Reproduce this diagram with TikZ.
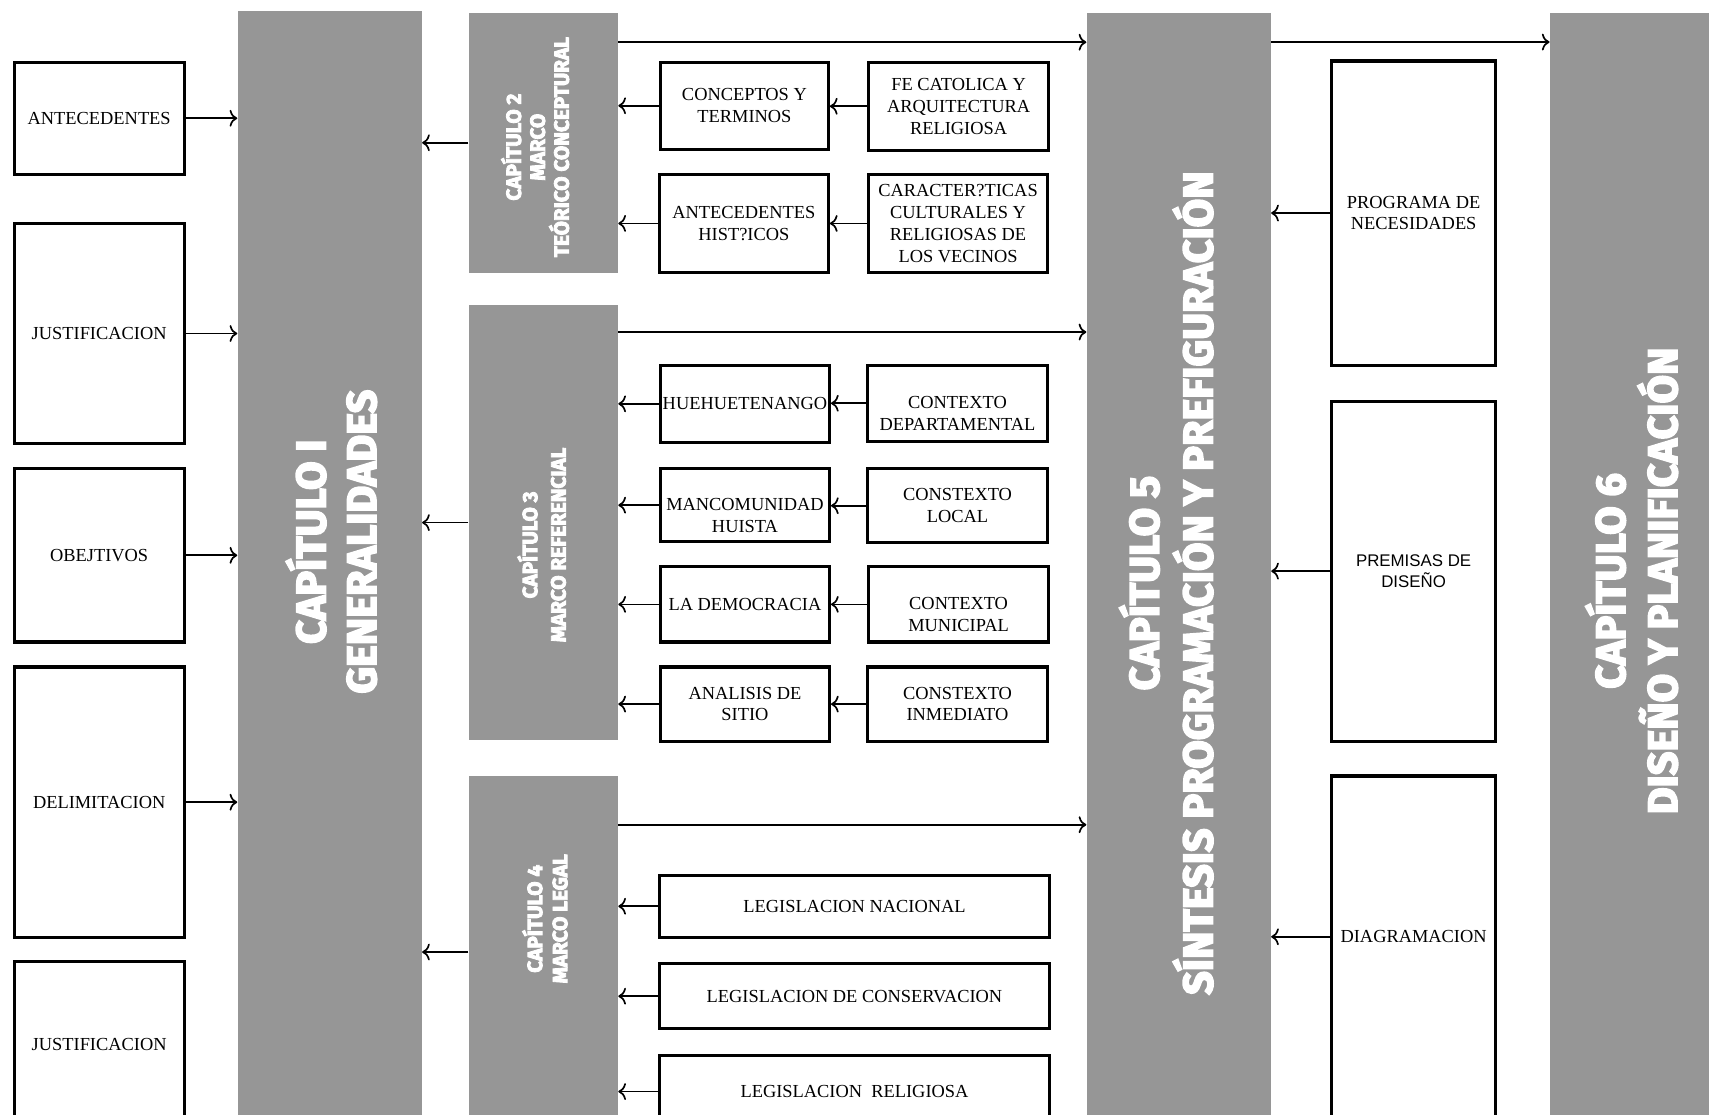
\documentclass[tikz,border=0pt]{standalone}
\usepackage{fontspec}
\setmainfont{Liberation Serif}
\newfontfamily\boxsans{Liberation Sans}
\newfontfamily\capfont{Fira Sans}[BoldFeatures={FakeBold=4}]
\usetikzlibrary{arrows.meta}
\definecolor{bargray}{RGB}{150,150,150}

\tikzset{
  box/.style={draw, line width=2pt, fill=white, align=center, inner sep=1pt,
    font=\fontsize{12}{14.2}\selectfont},
  bar/.style={fill=bargray, inner sep=0pt},
  captitle/.style={rotate=90, text=white, align=center, inner sep=0pt},
  bigcap/.style={captitle, font=\capfont\bfseries\fontsize{27}{33}\selectfont},
  smallcap/.style={captitle, font=\capfont\bfseries\fontsize{13.5}{#1}\selectfont},
  arr/.style={line width=1.1pt, -{To[length=5pt,width=11pt]}}
}
% text moved down inside its box
\newcommand{\lowtext}[1]{\raisebox{-0.38cm}[0pt][0pt]{\begin{tabular}{@{}c@{}}#1\end{tabular}}}

\begin{document}
\begin{tikzpicture}[x=0.025cm, y=-0.025cm]
\useasboundingbox (0,0) rectangle (1568,1023);

% chapter bars
\node[bar, minimum width=4.225cm, minimum height=25.625cm] (cap1) at (302.5,522.5) {};
\node[bar, minimum width=3.425cm, minimum height=5.95cm] (cap2) at (498.5,131) {};
\node[bar, minimum width=3.425cm, minimum height=9.975cm] (cap3) at (498.5,479.5) {};
\node[bar, minimum width=3.425cm, minimum height=8.075cm] (cap4) at (498.5,873.5) {};
\node[bar, minimum width=4.225cm, minimum height=25.575cm] (cap5) at (1081.5,523.5) {};
\node[bar, minimum width=3.95cm, minimum height=25.575cm] (cap6) at (1501,523.5) {};

\node[bigcap] (t1) at (304,497) {CAPÍTULO I\\GENERALIDADES};
\node[smallcap=15.6] (t2) at (491,135) {CAPÍTULO 2\\MARCO\\TEÓRICO CONCEPTURAL};
\node[smallcap=18.5] (t3) at (497,500) {CAPÍTULO 3\\MARCO REFERENCIAL};
\node[smallcap=16.4] (t4) at (500,843) {CAPÍTULO 4\\MARCO LEGAL};
\node[bigcap, font=\capfont\bfseries\fontsize{27}{35}\selectfont] (t5) at (1070,535)
  {CAPÍTULO 5\\SÍNTESIS PROGRAMACIÓN Y PREFIGURACIÓN};
\node[bigcap, font=\capfont\bfseries\fontsize{27}{34}\selectfont] (t6) at (1497,533)
  {CAPÍTULO 6\\DISEÑO Y PLANIFICACIÓN};

% chapter 1
\node[box, minimum width=3.9cm, minimum height=2.575cm] (ante) at (91,108.5) {ANTECEDENTES};
\node[box, minimum width=3.9cm, minimum height=5.05cm] (just) at (91,306) {JUSTIFICACION};
\node[box, minimum width=3.9cm, minimum height=3.975cm] (obj) at (91,509.5) {OBEJTIVOS};
\node[box, minimum width=3.9cm, minimum height=6.2cm] (deli) at (91,736) {DELIMITACION};
\node[box, minimum width=3.9cm, minimum height=3.825cm] (justb) at (91,958.5) {JUSTIFICACION};

\foreach \n in {ante,just,obj,deli}
  \draw[arr] (\n.east) -- (\n.east -| cap1.west);

% chapter 2
\node[box, minimum width=3.85cm, minimum height=2cm] (conc) at (683,97) {CONCEPTOS Y\\TERMINOS};
\node[box, minimum width=4.125cm, minimum height=2.025cm] (fe) at (879.5,97.5) {FE CATOLICA Y\\ARQUITECTURA\\RELIGIOSA};
\node[box, minimum width=3.875cm, minimum height=2.25cm] (anth) at (682.5,205) {ANTECEDENTES\\HIST?ICOS};
\node[box, minimum width=4.1cm, minimum height=2.25cm] (cara) at (879,205) {CARACTER?TICAS\\CULTURALES Y\\RELIGIOSAS DE\\LOS VECINOS};

% chapter 3
\node[box, minimum width=3.875cm, minimum height=1.775cm] (hue) at (683.5,370.5) {HUEHUETENANGO};
\node[box, minimum width=4.125cm, minimum height=1.75cm] (cdep) at (878.5,370) {\lowtext{CONTEXTO\\DEPARTAMENTAL}};
\node[box, minimum width=3.875cm, minimum height=1.675cm] (manc) at (683.5,463.5) {\lowtext{MANCOMUNIDAD\\HUISTA}};
\node[box, minimum width=4.125cm, minimum height=1.7cm] (cloc) at (878.5,464) {CONSTEXTO\\LOCAL};
\node[box, minimum width=3.875cm, minimum height=1.725cm] (demo) at (683.5,554.5) {LA DEMOCRACIA};
\node[box, minimum width=4.125cm, minimum height=1.725cm] (cmun) at (879.5,554.5) {\lowtext{CONTEXTO\\MUNICIPAL}};
\node[box, minimum width=3.875cm, minimum height=1.7cm] (anal) at (683.5,646) {ANALISIS DE\\SITIO};
\node[box, minimum width=4.125cm, minimum height=1.7cm] (cinm) at (878.5,646) {CONSTEXTO\\INMEDIATO};

\foreach \a/\b in {fe/conc,cara/anth,cdep/hue,cloc/manc,cmun/demo,cinm/anal}
  \draw[arr] (\a.west) -- (\a.west -| \b.east);
\foreach \n in {conc,anth}
  \draw[arr] (\n.west) -- (\n.west -| cap2.east);
\foreach \n in {hue,manc,demo,anal}
  \draw[arr] (\n.west) -- (\n.west -| cap3.east);

% chapter 4
\node[box, minimum width=8.95cm, minimum height=1.425cm] (lnac) at (784,831.5) {LEGISLACION NACIONAL};
\node[box, minimum width=8.95cm, minimum height=1.5cm] (lcon) at (784,914) {LEGISLACION DE CONSERVACION};
\node[box, minimum width=8.95cm, minimum height=1.675cm] (lrel) at (784,1001.5) {LEGISLACION\ \ RELIGIOSA};

\foreach \n in {lnac,lcon,lrel}
  \draw[arr] (\n.west) -- (\n.west -| cap4.east);

% chapters to chapter 1 and 5
\foreach \n in {cap2,cap3,cap4}
  \draw[arr] (\n.west) -- (\n.west -| cap1.east);
\draw[arr] ([yshift=-0.675cm]cap2.north east) -- ([yshift=-0.675cm]cap2.north east -| cap5.west);
\draw[arr] ([yshift=-0.625cm]cap3.north east) -- ([yshift=-0.625cm]cap3.north east -| cap5.west);
\draw[arr] ([yshift=-1.125cm]cap4.north east) -- ([yshift=-1.125cm]cap4.north east -| cap5.west);
\draw[arr] ([yshift=-0.675cm]cap5.north east) -- ([yshift=-0.675cm]cap5.north east -| cap6.west);

% chapter 5
\node[box, minimum width=3.75cm, minimum height=6.975cm] (prog) at (1297,195.5) {PROGRAMA DE\\NECESIDADES};
\node[box, minimum width=3.75cm, minimum height=7.8cm, font=\boxsans\fontsize{11}{14}\selectfont] (prem) at (1297,524) {PREMISAS DE\\DISEÑO};
\node[box, minimum width=3.75cm, minimum height=8.075cm] (diag) at (1297,873.5) {\raisebox{0.22cm}[0pt][0pt]{DIAGRAMACION}};

\draw[arr] (prog.west) -- (prog.west -| cap5.east);
\draw[arr] (prem.west) -- (prem.west -| cap5.east);
\draw[arr] ([yshift=0.35cm]diag.west) -- ([yshift=0.35cm]diag.west -| cap5.east);
\end{tikzpicture}
\end{document}
